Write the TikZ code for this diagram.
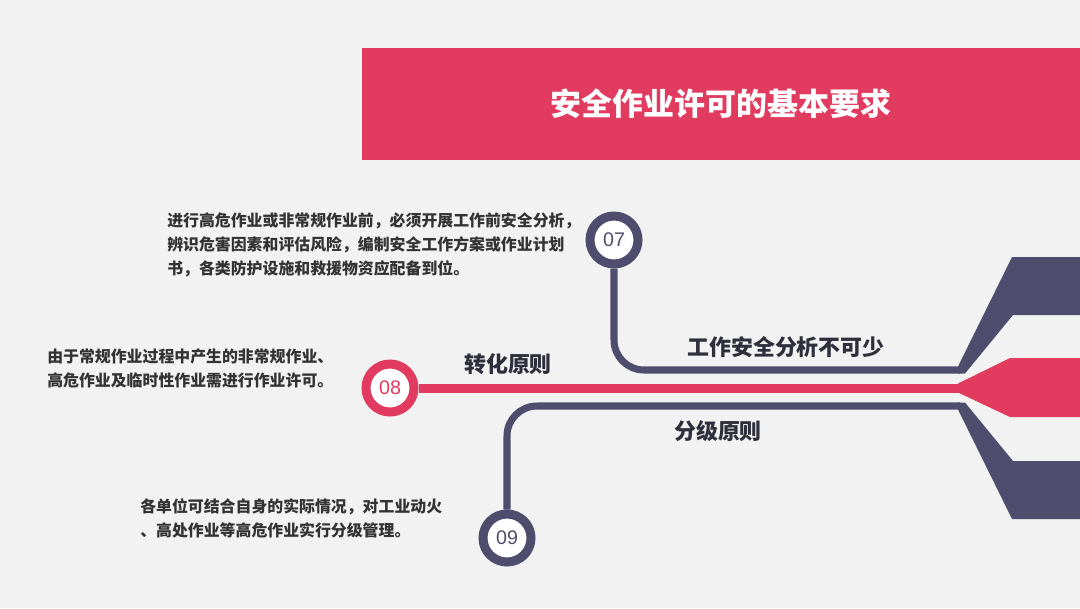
\documentclass[tikz,border=0pt]{standalone}
\usepackage{fontspec}
\setmainfont{Liberation Sans}
\newfontfamily\cjk{Noto Sans CJK SC}
\definecolor{bggray}{HTML}{F2F2F2}
\definecolor{crimson}{HTML}{E13B5F}
\definecolor{slatenavy}{HTML}{4E4D6E}
\definecolor{inkgray}{HTML}{333333}
\definecolor{headgray}{HTML}{2F2F3C}

\begin{document}
\begin{tikzpicture}[
  x=0.025cm, y=-0.025cm,
  navyline/.style={draw=slatenavy, line width=5pt},
  redline/.style={draw=crimson, line width=6.4pt},
  numring/.style={circle, draw=#1, line width=6.4pt, fill=white,
    minimum size=1.2cm, inner sep=0pt, text=#1,
    font=\fontsize{14}{16}\selectfont},
  topic/.style={font=\cjk\bfseries\fontsize{15.6}{18}\selectfont, text=headgray},
  note/.style={font=\cjk\bfseries\fontsize{11.3}{17}\selectfont, text=inkgray,
    align=left, inner sep=0pt, anchor=west},
]

% Background
\fill[bggray] (0,0) rectangle (1080,608);

% Title bar
\fill[crimson] (362,48) rectangle (1080,160);
\node[font=\cjk\bfseries\fontsize{22}{26}\selectfont, text=white] (title) at (721,104)
  {安全作业许可的基本要求};

% =============================================
% Flared ends on the right
% =============================================
\fill[slatenavy] (958,366.5) -- (1012,257) -- (1080,257) -- (1080,315)
  -- (1013,315) -- (965,373.5) -- (958,373.5) -- cycle;
\fill[crimson] (958,383.5) -- (1010,358) -- (1080,358) -- (1080,417)
  -- (1010,417) -- (958,392.5) -- cycle;
\fill[slatenavy] (958,409.5) -- (1012,519) -- (1080,519) -- (1080,461)
  -- (1013,461) -- (965,402.5) -- (958,402.5) -- cycle;

\coordinate (e07) at (960,370);
\coordinate (e08) at (960,388);
\coordinate (e09) at (960,406);

% =============================================
% Numbered circles and lines
% =============================================
\node[numring=slatenavy] (c07) at (614,240) {07};
\node[numring=crimson] (c08) at (390,388) {08};
\node[numring=slatenavy] (c09) at (507,538) {09};

\draw[navyline, rounded corners=0.75cm] (c07.south) |- (e07);
\draw[redline] (c08.east) -- (e08);
\draw[navyline, rounded corners=0.75cm] (c09.north) |- (e09);

% Line labels
\node[topic] (t07) at (786,347) {工作安全分析不可少};
\node[topic] (t08) at (508,364) {转化原则};
\node[topic] (t09) at (718,431) {分级原则};

% Notes
\node[note] (d07) at (167,245)
  {进行高危作业或非常规作业前，必须开展工作前安全分析，\\
   辨识危害因素和评估风险，编制安全工作方案或作业计划\\
   书，各类防护设施和救援物资应配备到位。};
\node[note] (d08) at (47,368.5)
  {由于常规作业过程中产生的非常规作业、\\
   高危作业及临时性作业需进行作业许可。};
\node[note] (d09) at (140,518)
  {各单位可结合自身的实际情况，对工业动火\\
   、高处作业等高危作业实行分级管理。};

\end{tikzpicture}
\end{document}
